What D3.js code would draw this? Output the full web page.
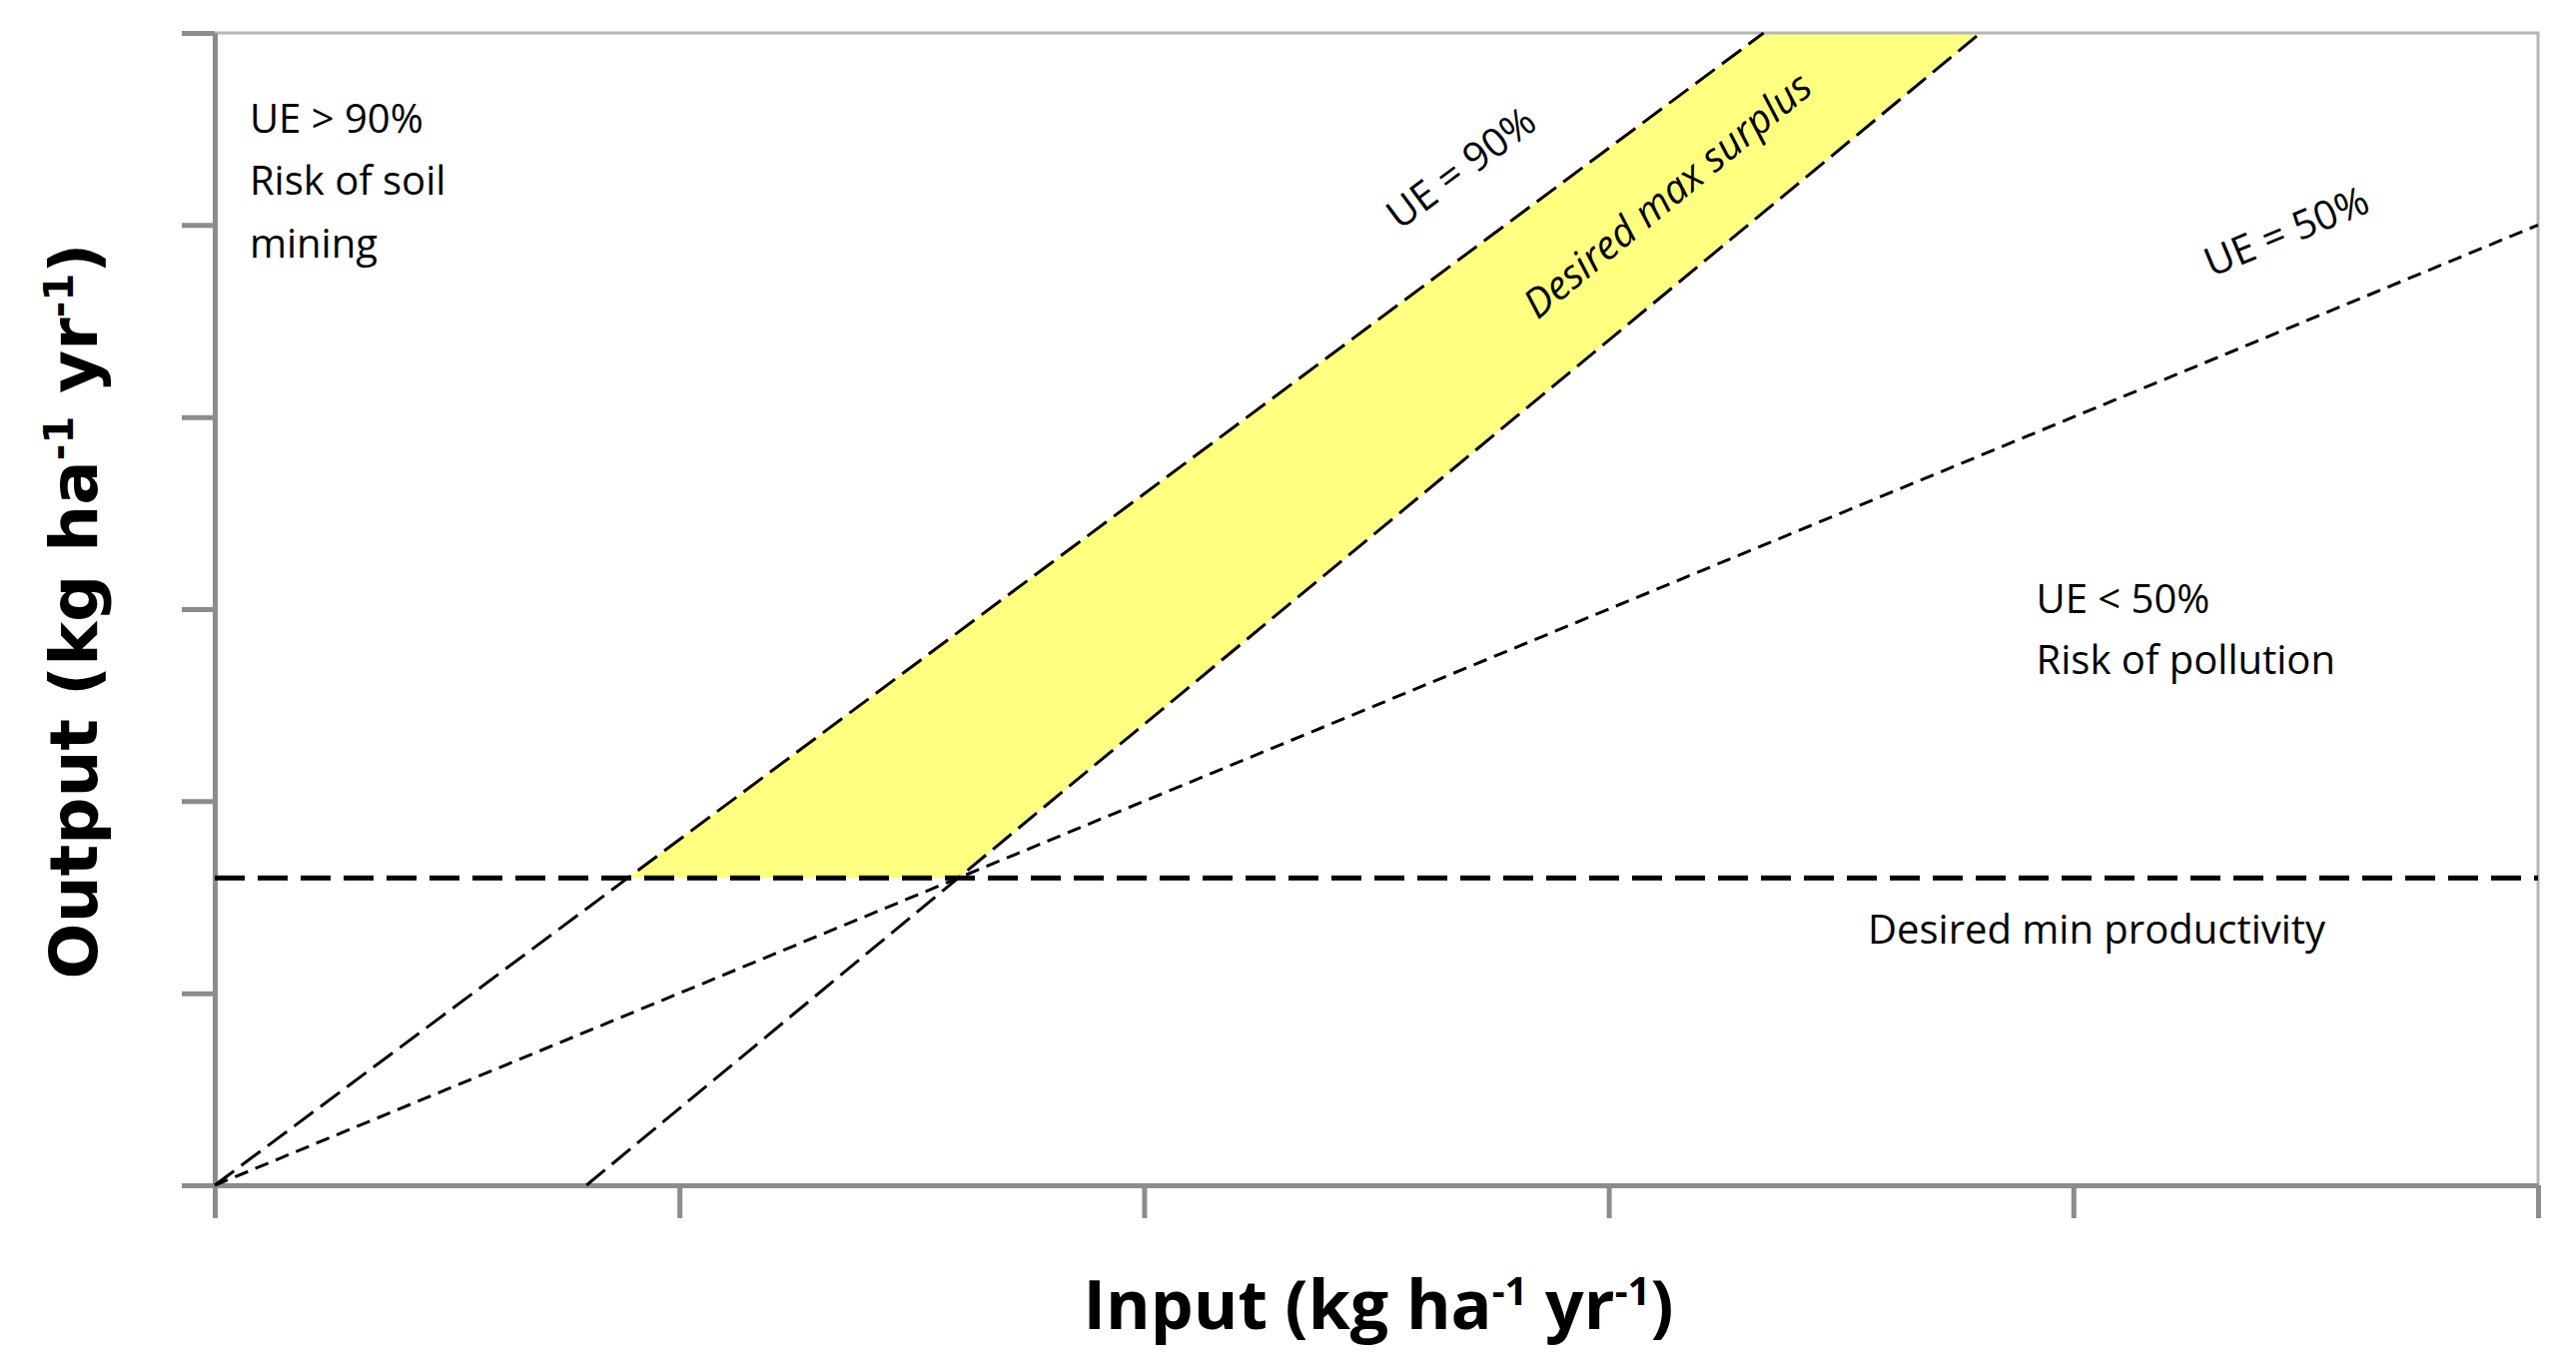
<!DOCTYPE html>
<html><head><meta charset="utf-8">
<script src="https://cdn.jsdelivr.net/npm/d3@7"></script>
<style>body{margin:0;background:#fff}text{font-family:"Liberation Sans Narrow","Open Sans",sans-serif}</style>
</head><body>
<script>
// chart values (arbitrary units, conceptual diagram)
var xTicks = [0, 20, 40, 60, 80, 100];
var yTicks = [0, 10, 20, 30, 40, 50, 60];
var ueHigh = 0.9;       // UE = 90%
var ueLow = 0.5;        // UE = 50%
var minProd = 16;       // desired min productivity
var maxSurplus = 16;    // output = input - surplus

var W = 2579, H = 1364;
var m = {left: 215, right: 38, top: 33, bottom: 177};

var svg = d3.select("body").append("svg").attr("width", W).attr("height", H);

var x = d3.scaleLinear().domain([0, 100]).range([m.left, W - m.right]);
var y = d3.scaleLinear().domain([0, 60]).range([H - m.bottom, m.top]);

// yellow band between UE90 and surplus line above min productivity
var band = [[minProd / ueHigh, minProd], [minProd + maxSurplus, minProd],
            [60 + maxSurplus, 60], [60 / ueHigh, 60]];
svg.append("path")
  .attr("d", d3.line().x(function(d){return x(d[0]);}).y(function(d){return y(d[1]);})(band) + "Z")
  .attr("fill", "#ffff80");

// frame
svg.append("rect").attr("x", x(0)).attr("y", y(60)).attr("width", x(100) - x(0)).attr("height", y(0) - y(60))
  .attr("fill", "none").attr("stroke", "#b5b5b5").attr("stroke-width", 3);

var xAxis = svg.append("g").attr("transform", "translate(0," + y(0) + ")")
  .call(d3.axisBottom(x).tickValues(xTicks).tickFormat("").tickSize(33).tickSizeOuter(0));
var yAxis = svg.append("g").attr("transform", "translate(" + x(0) + ",0)")
  .call(d3.axisLeft(y).tickValues(yTicks).tickFormat("").tickSize(33).tickSizeOuter(0));
[xAxis, yAxis].forEach(function(a){
  a.selectAll("path,line").attr("stroke", "#8c8c8c").attr("stroke-width", 5);
});

var line = d3.line().x(function(d){return x(d[0]);}).y(function(d){return y(d[1]);});
function dline(pts, dash, wd) {
  svg.append("path").attr("d", line(pts)).attr("fill", "none")
    .attr("stroke", "#000").attr("stroke-width", wd).attr("stroke-dasharray", dash);
}
dline([[0, 0], [60 / ueHigh, 60]], "24,9", 3);
dline([[0, 0], [100, 100 * ueLow]], "14,8", 3);
dline([[maxSurplus, 0], [60 + maxSurplus, 60]], "24,9", 3);
dline([[0, minProd], [100, minProd]], "30,13", 5);

function label(txt, dx, dy, ang, opts) {
  opts = opts || {};
  svg.append("text").attr("transform", "translate(" + x(dx) + "," + y(dy) + ") rotate(" + (ang || 0) + ")")
    .attr("text-anchor", opts.anchor || "start").attr("font-size", opts.size || 40)
    .attr("font-style", opts.italic ? "italic" : "normal").text(txt);
}
function slopeAng(s) {
  return -Math.atan(s * (y(0) - y(1)) / (x(1) - x(0))) * 180 / Math.PI;
}
label("UE > 90%", 1.5, 54.8);
label("Risk of soil", 1.5, 51.6);
label("mining", 1.5, 48.3);
label("UE < 50%", 78.4, 29.8);
label("Risk of pollution", 78.4, 26.6);
label("Desired min productivity", 81.0, 12.6, 0, {anchor: "middle"});
label("UE = 90%", 54.0, 52.4, slopeAng(ueHigh), {anchor: "middle"});
label("UE = 50%", 89.4, 49.0, slopeAng(ueLow), {anchor: "middle"});
label("Desired max surplus", 62.9, 51.0, slopeAng(1), {anchor: "middle", italic: true});

// axis titles
var tx = svg.append("text").attr("x", 1380).attr("y", 1331).attr("text-anchor", "middle")
  .attr("font-size", 68).attr("font-weight", "bold");
tx.append("tspan").text("Input (kg ha");
tx.append("tspan").attr("dy", -24).attr("font-size", 40).text("-1");
tx.append("tspan").attr("dy", 24).text(" yr");
tx.append("tspan").attr("dy", -24).attr("font-size", 40).text("-1");
tx.append("tspan").attr("dy", 24).text(")");

var ty = svg.append("text").attr("transform", "translate(97,612) rotate(-90)").attr("text-anchor", "middle")
  .attr("font-size", 66).attr("font-weight", "bold").style("font-family", "'DejaVu Sans',sans-serif");
ty.append("tspan").text("Output (kg ha");
ty.append("tspan").attr("dy", -24).attr("font-size", 40).text("-1");
ty.append("tspan").attr("dy", 24).text(" yr");
ty.append("tspan").attr("dy", -24).attr("font-size", 40).text("-1");
ty.append("tspan").attr("dy", 24).text(")");
</script>
</body></html>
